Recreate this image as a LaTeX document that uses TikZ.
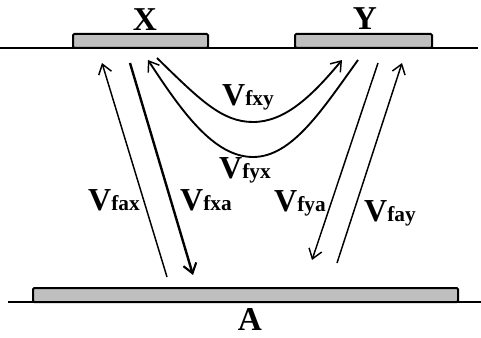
\documentclass[tikz,border=0pt]{standalone}
\usepackage{fontspec}
\setmainfont{Liberation Serif}
\usepackage{tikz}
\usetikzlibrary{arrows.meta}
\newcommand{\vsub}[1]{{\fontsize{24}{26}\selectfont\bfseries V}{\fontsize{16}{18}\selectfont\bfseries #1}}
\tikzset{
    thinarrow/.style={
        line width=1.1pt,
        black,
        -{Straight Barb[length=7pt, width=10pt, line width=1.1pt]}
    },
    % thicker down arrow
    thickarrow/.style={
        line width=1.8pt,
        black,
        -{Straight Barb[length=7pt, width=10pt, line width=1.6pt]}
    },
    padbox/.style={
        draw=black,
        line width=1.5pt,
        fill=gray!50,
        rounded corners=1pt,
        inner sep=0pt
    },
    ground/.style={line width=2.2pt, black},
    lbl/.style={inner sep=0pt, anchor=base, font=\fontsize{25}{27}\selectfont\bfseries}
}
\begin{document}
\begin{tikzpicture}[x=0.75pt,y=-0.75pt]
    \useasboundingbox (0,0) rectangle (481,338);
    \draw[ground] (0,48) -- (478,48);
    \draw[ground] (8,302) -- (481,302);
    \path 
    (102,63) coordinate (ax1) (167,277) coordinate (ax0)
    (130,63) coordinate (xa0) (193,275) coordinate (xa1)
    (378,63) coordinate (ya0) (312,260) coordinate (ya1)
    (337,263) coordinate (ay0) (402,63) coordinate (ay1)
    (157,58) coordinate (xy0) (342,60) coordinate (xy1)
    (358,60) coordinate (yx0) (148,60) coordinate (yx1);
    \draw[padbox] (73,34) rectangle (208,48);
    \draw[padbox] (295,34) rectangle (432,48);
    \draw[padbox] (33,288) rectangle (458,302);
    \node[lbl] (X) at (145,31) {X};
    \node[lbl] (Y) at (365,30) {Y};
    \node[lbl] (A) at (250,330) {A};
    \draw[thinarrow] (ax0) -- (ax1);
    \draw[thickarrow] (xa0) -- (xa1);
    \draw[thinarrow] (ya0) -- (ya1);
    \draw[thinarrow] (ay0) -- (ay1);
    \draw[thinarrow, line width=1.4pt] (xy0) .. controls (200,100) and (222,122) .. (253,122)
        .. controls (285,122) and (312,96) .. (xy1);
    \draw[thinarrow, line width=1.4pt] (yx0) .. controls (322,110) and (292,157) .. (253,157)
        .. controls (214,157) and (182,112) .. (yx1);
    \node (vfxy) at (248,97) {\vsub{fxy}};
    \node (vfyx) at (245,170) {\vsub{fyx}};
    \node (vfax) at (114,200) {\vsub{fax}};
    \node (vfxa) at (206,200) {\vsub{fxa}};
    \node (vfya) at (300,203) {\vsub{fya}};
    \node (vfay) at (390,213) {\vsub{fay}};
\end{tikzpicture}
\end{document}
